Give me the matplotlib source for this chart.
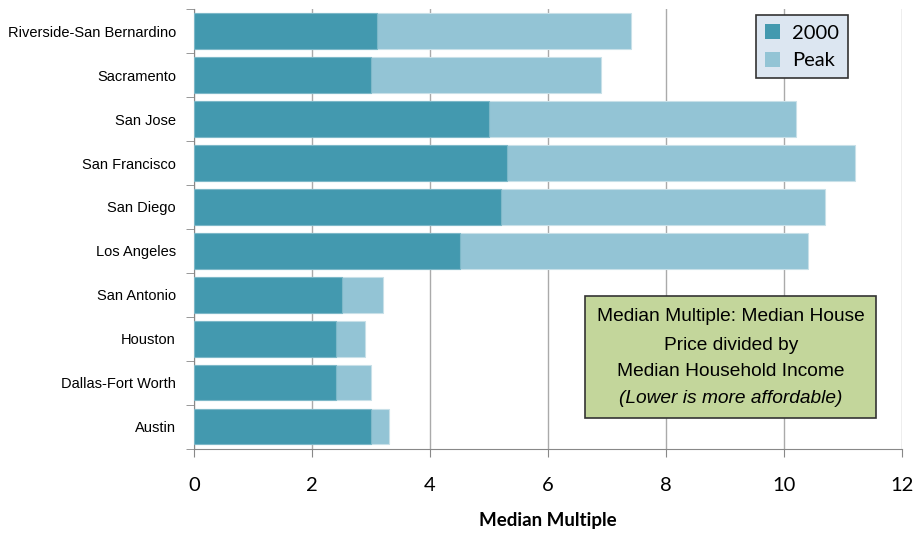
import matplotlib
matplotlib.use("Agg")
import matplotlib.pyplot as plt
from matplotlib.patches import Patch, Rectangle

categories = ["Riverside-San Bernardino", "Sacramento", "San Jose", "San Francisco",
              "San Diego", "Los Angeles", "San Antonio", "Houston",
              "Dallas-Fort Worth", "Austin"]
val_2000 = [3.1, 3.0, 5.0, 5.3, 5.2, 4.5, 2.5, 2.4, 2.4, 3.0]
val_peak = [7.4, 6.9, 10.2, 11.2, 10.7, 10.4, 3.2, 2.9, 3.0, 3.3]
xticks = [0, 2, 4, 6, 8, 10, 12]
note_lines = ["Median Multiple: Median House", "Price divided by",
              "Median Household Income", "(Lower is more affordable)"]

c2000 = "#4399AF"
cpeak = "#93C4D5"

fig = plt.figure(figsize=(9.15, 5.35), dpi=100)
ax = fig.add_axes([0.212, 0.161, 0.774, 0.822])

y = list(range(len(categories)))[::-1]
ax.barh(y, val_peak, height=0.8, color=cpeak, edgecolor="#C8E0E8", linewidth=0.8, zorder=2)
ax.barh(y, val_2000, height=0.8, color=c2000, edgecolor="#7DB8C8", linewidth=0.8, zorder=3)

ax.set_xlim(0, 12)
ax.set_ylim(-0.5, len(categories) - 0.5)
ax.set_xticks(xticks)
ax.set_xticklabels([str(t) for t in xticks], fontsize=14.5, family="Lato")
ax.set_yticks(y)
ax.set_yticklabels(categories, fontsize=10.5, family="Liberation Sans")
ax.tick_params(axis="y", length=0, pad=13)
ax.set_yticks([v - 0.5 for v in range(len(categories) + 1)], minor=True)
ax.tick_params(axis="y", which="minor", length=6, color="#888888", direction="out")
ax.tick_params(axis="x", length=6, color="#888888", direction="out", pad=14)

ax.grid(axis="x", color="#AAAAAA", linewidth=1, zorder=0)
ax.set_axisbelow(True)
for s in ["top", "right"]:
    ax.spines[s].set_visible(False)
ax.spines["left"].set_color("#888888")
ax.spines["bottom"].set_color("#888888")

ax.set_xlabel("Median Multiple", fontsize=13.5, fontweight="bold", family="Lato", labelpad=13)

handles = [Patch(facecolor=c2000, label="2000"), Patch(facecolor=cpeak, label="Peak")]
leg = ax.legend(handles=handles, loc="upper right", bbox_to_anchor=(0.924, 0.986),
                prop={"family": "Lato", "size": 14.5}, frameon=True, fancybox=False,
                handlelength=0.75, handleheight=0.75, handletextpad=0.6,
                borderpad=0.45, labelspacing=0.5, borderaxespad=0)
leg.get_frame().set_facecolor("#DCE6F1")
leg.get_frame().set_edgecolor("#333333")
leg.get_frame().set_linewidth(1.2)
leg.get_frame().set_alpha(1)

ax.add_patch(Rectangle((0.552, 0.070), 0.963 - 0.552, 0.348 - 0.070, transform=ax.transAxes,
                       facecolor="#C3D69B", edgecolor="#333333", linewidth=1.2, zorder=4))
line_y = [0.302, 0.236, 0.175, 0.114]
for i, (txt, yy) in enumerate(zip(note_lines, line_y)):
    ax.text(0.758, yy, txt, transform=ax.transAxes, ha="center", va="center",
            fontsize=13.8, family="Liberation Sans",
            style="italic" if i == 3 else "normal", zorder=5)

fig.savefig("out.png", dpi=100)
